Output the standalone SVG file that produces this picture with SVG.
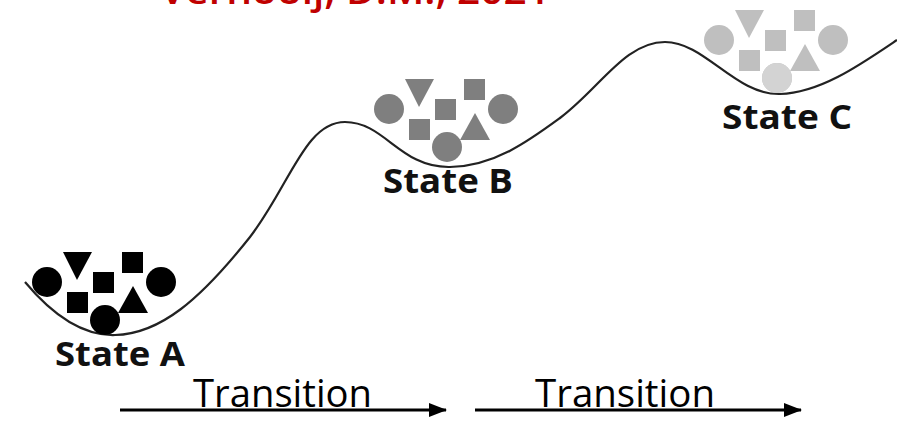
<svg xmlns="http://www.w3.org/2000/svg" xmlns:xlink="http://www.w3.org/1999/xlink" width="897" height="426" viewBox="0 0 897 426">
<style>
.lbl{font-family:"Open Sans","Liberation Sans",sans-serif;font-weight:bold;font-size:34px;fill:#111}
.tr{font-family:"Open Sans","Liberation Sans",sans-serif;font-size:38px;fill:#000}
.curve{fill:none;stroke:#222;stroke-width:2.2}
.arrow{stroke:#000;stroke-width:3;fill:none}
.title{font-family:"Open Sans","Liberation Sans",sans-serif;font-weight:600;font-size:36px;fill:#c00000}
</style>
<defs>
<g id="cluster">
<circle cx="47" cy="282" r="15"/>
<polygon points="63,252 92,252 77,280"/>
<rect x="93" y="272" width="21" height="21"/>
<rect x="122" y="252" width="21" height="21"/>
<rect x="67" y="292" width="21" height="21"/>
<circle cx="105" cy="320" r="15"/>
<polygon points="133,286 148,313 118,313"/>
<circle cx="161" cy="282" r="15"/>
</g>
<marker id="ah" markerWidth="18" markerHeight="14" refX="17" refY="7" orient="auto" markerUnits="userSpaceOnUse">
<polygon points="0,0 18,7 0,14" fill="#000"/>
</marker>
</defs>
<rect width="897" height="426" fill="#fff"/>
<text class="title" x="160" y="4" textLength="390" lengthAdjust="spacingAndGlyphs">Vernooij, D.M., 2021</text>
<g id="connectors">
<path class="curve" d="M25,282 C50,312 80,336 115,335 C160,334 200,300 250,237 C290,185 305,122 345,122 C385,122 400,168 450,167 C495,166 530,140 560,118 C600,88 625,42 665,42 C705,42 735,95 780,94 C820,93 860,65 897,40"/>
<line class="arrow" x1="120" y1="410" x2="446" y2="410" marker-end="url(#ah)"/>
<line class="arrow" x1="475" y1="410" x2="801" y2="410" marker-end="url(#ah)"/>
<text class="tr" x="193" y="407" textLength="179" lengthAdjust="spacingAndGlyphs">Transition</text>
<text class="tr" x="535" y="407" textLength="180" lengthAdjust="spacingAndGlyphs">Transition</text>
</g>
<g id="stateA">
<use xlink:href="#cluster" fill="#000"/>
<text class="lbl" x="55" y="366" textLength="130" lengthAdjust="spacingAndGlyphs">State A</text>
</g>
<g id="stateB">
<use xlink:href="#cluster" fill="#7f7f7f" transform="translate(342,-173)"/>
<text class="lbl" x="383" y="193" textLength="130" lengthAdjust="spacingAndGlyphs">State B</text>
</g>
<g id="stateC">
<use xlink:href="#cluster" fill="#bfbfbf" transform="translate(672,-242)"/>
<circle cx="777" cy="78" r="15" fill="#d3d3d3"/>
<text class="lbl" x="722" y="129" textLength="130" lengthAdjust="spacingAndGlyphs">State C</text>
</g>
</svg>
